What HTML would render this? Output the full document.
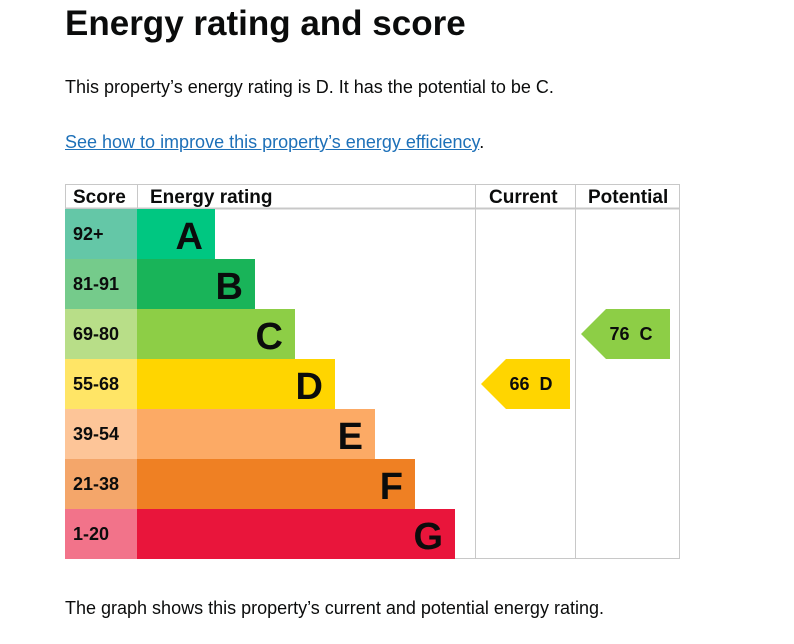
<!DOCTYPE html>
<html><head><meta charset="utf-8"><style>
body{margin:0;width:794px;height:644px;background:#fff;font-family:"Liberation Sans",sans-serif;color:#0b0c0c;position:relative;overflow:hidden}
h1{position:absolute;left:65px;top:4px;margin:0;font-size:35px;font-weight:bold}
p{position:absolute;left:65px;margin:0;font-size:18px}
a{color:#1d70b8;text-decoration:underline}
</style></head><body>
<h1>Energy rating and score</h1>
<p style="top:77px">This property’s energy rating is D. It has the potential to be C.</p>
<p style="top:132px"><a href="#">See how to improve this property’s energy efficiency</a>.</p>
<svg id="chart" style="position:absolute;left:0;top:0" width="794" height="644"></svg>
<p style="top:598px">The graph shows this property’s current and potential energy rating.</p>
<script>
const bands=["A","B","C","D","E","F","G"];
const scoreLabels=["92+","81-91","69-80","55-68","39-54","21-38","1-20"];
const barColors=["#00c781","#19b459","#8dce46","#ffd500","#fcaa65","#ef8023","#e9153b"];
const scoreColors=["#64c7a7","#75cb8b","#b8de88","#ffe566","#fdc598","#f4a66a","#f2738a"];
const currentScore=66, currentBand="D";
const potentialScore=76, potentialBand="C";
const NS="http://www.w3.org/2000/svg";
const svg=document.getElementById("chart");
function mk(t,a,txt){const e=document.createElementNS(NS,t);for(const k in a)e.setAttribute(k,a[k]);if(txt!=null)e.textContent=txt;svg.appendChild(e);return e;}
const top0=209,rowH=50,left=65,barX=137;
function rowY(i){return top0+i*rowH;}
function barW(i){return 78+i*40;}
// grid
let g;
g=mk("rect",{x:65.5,y:184.5,width:614,height:374,fill:"none",stroke:"#c8c8c8"});
[137,475,575].forEach(x=>{g=mk("line",{x1:x+.5,y1:184,x2:x+.5,y2:559,stroke:"#c8c8c8"});});
g=mk("line",{x1:65,y1:208.5,x2:680,y2:208.5,stroke:"#c8c8c8",'stroke-width':2});
[["Score",73],["Energy rating",150],["Current",489],["Potential",588]].forEach(h=>{g=mk("text",{x:h[1],y:203,'font-size':19,'font-weight':'bold',fill:'#0b0c0c'},h[0]);});
bands.forEach((b,i)=>{
 const y=rowY(i);
 g=mk("rect",{x:left,y:y,width:72,height:rowH,fill:scoreColors[i]});
 g=mk("text",{x:73,y:y+31,'font-size':18,'font-weight':'bold',fill:'#0b0c0c'},scoreLabels[i]);
 g=mk("rect",{x:barX,y:y,width:barW(i),height:rowH,fill:barColors[i]});
 g=mk("text",{x:barX+barW(i)-12,y:y+40,'font-size':38,'font-weight':'bold','text-anchor':'end',fill:'#0b0c0c'},b);
});
function arrow(x,score,band,name){
 const i=bands.indexOf(band),y=rowY(i),w=89;
 g=mk("polygon",{points:`${x},${y+25} ${x+25},${y} ${x+w},${y} ${x+w},${y+rowH} ${x+25},${y+rowH}`,fill:barColors[i]});
 g=mk("text",{x:x+50,y:y+31,'font-size':18,'font-weight':'bold','text-anchor':'middle',fill:'#0b0c0c'},score+"  "+band);
 g.setAttribute('xml:space','preserve');g.style.whiteSpace='pre';
}
arrow(481,currentScore,currentBand,'current-rating');
arrow(581,potentialScore,potentialBand,'potential-rating');
</script>
</body></html>
